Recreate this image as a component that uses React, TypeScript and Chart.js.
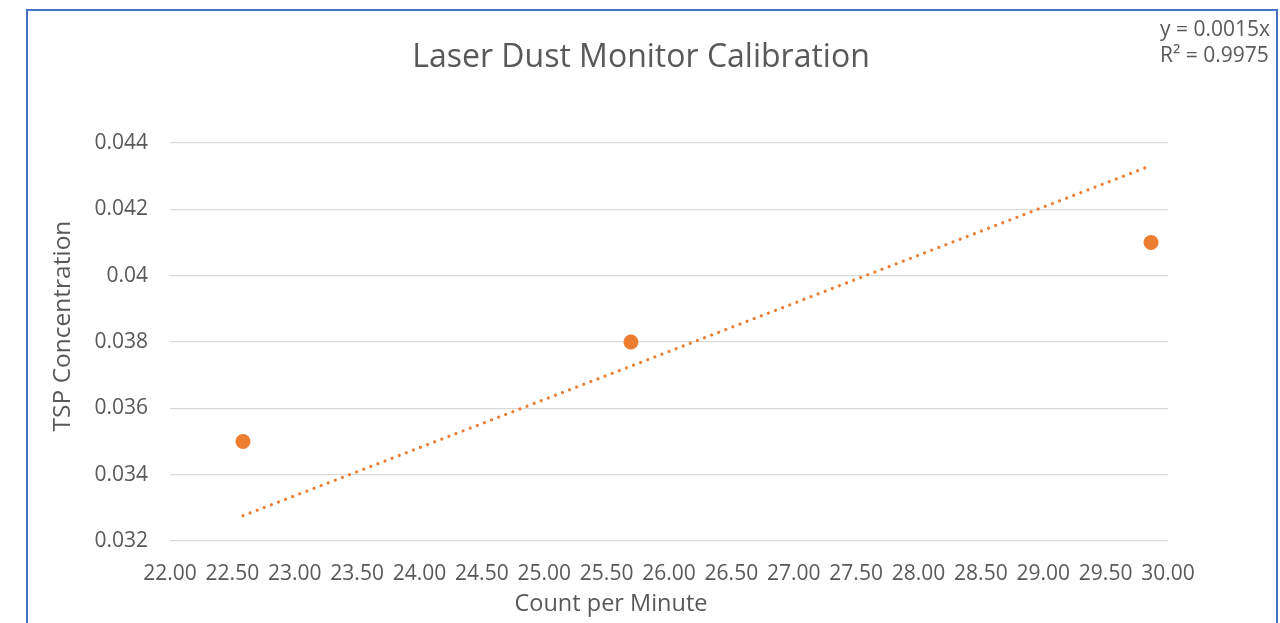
import React, { useEffect, useRef } from "react";
import { Chart, registerables } from "chart.js";

Chart.register(...registerables);

const chartTitle = "Laser Dust Monitor Calibration";
const xAxisTitle = "Count per Minute";
const yAxisTitle = "TSP Concentration";
const countPerMinute = [22.585, 25.695, 29.864];
const tspConcentration = [0.035, 0.038, 0.041];
const equationLabel = "y = 0.0015x";
const r2Label = "R² = 0.9975";
const xRange = [22, 30, 0.5];
const yRange = [0.032, 0.044, 0.002];

const FONT = "'Open Sans', sans-serif";
const TEXT = "#595959";
const ORANGE = "#ED7D31";

export default function App() {
  const ref = useRef<HTMLCanvasElement | null>(null);
  useEffect(() => {
    const canvas = ref.current;
    if (!canvas) return;
    // trendline through origin (least squares)
    let sxy = 0, sxx = 0;
    countPerMinute.forEach((x, i) => { sxy += x * tspConcentration[i]; sxx += x * x; });
    const slope = sxy / sxx;
    const xmin = Math.min(...countPerMinute);
    const xmax = Math.max(...countPerMinute);
    const trend = [{ x: xmin, y: slope * xmin }, { x: xmax, y: slope * xmax }];

    const textPlugin = {
      id: "texts",
      afterDraw(chart: any) {
        const ctx = chart.ctx;
        ctx.save();
        ctx.fillStyle = TEXT;
        ctx.textBaseline = "middle";
        ctx.textAlign = "center";
        ctx.font = `32px ${FONT}`;
        ctx.fillText(chartTitle, 641, 58);
        ctx.font = `23.5px ${FONT}`;
        ctx.fillText(xAxisTitle, 611, 604);
        ctx.save();
        ctx.translate(63, 326);
        ctx.rotate(-Math.PI / 2);
        ctx.font = `24.5px ${FONT}`;
        ctx.fillText(yAxisTitle, 0, 0);
        ctx.restore();
        ctx.textAlign = "left";
        ctx.font = `21px ${FONT}`;
        ctx.fillText(equationLabel, 1160, 30);
        ctx.fillText(r2Label, 1160, 56);
        ctx.restore();
      },
    };

    const chart = new Chart(canvas, {
      type: "scatter",
      data: {
        datasets: [
          {
            label: "data",
            data: countPerMinute.map((x, i) => ({ x, y: tspConcentration[i] })),
            backgroundColor: ORANGE,
            borderColor: ORANGE,
            pointRadius: 7.5,
            pointHoverRadius: 7.5,
            borderWidth: 0,
          },
          {
            label: "trend",
            type: "line",
            data: trend,
            borderColor: ORANGE,
            borderWidth: 3.2,
            borderCapStyle: "round",
            borderDash: [0.01, 7.6],
            pointRadius: 0,
            fill: false,
          } as any,
        ],
      },
      options: {
        animation: false,
        responsive: false,
        layout: { padding: { left: 0, right: 112, top: 143, bottom: 0 } },
        plugins: { legend: { display: false }, title: { display: false }, tooltip: { enabled: false } },
        scales: {
          x: {
            type: "linear",
            min: xRange[0],
            max: xRange[1],
            afterFit(s: any) { s.height = 623 - 143 - 398; },
            border: { display: false },
            grid: { display: false, drawTicks: false },
            ticks: {
              stepSize: xRange[2],
              color: TEXT,
              font: { family: FONT, size: 21 },
              padding: 20,
              maxRotation: 0,
              autoSkip: false,
              callback: (v: any) => Number(v).toFixed(2),
            },
          },
          y: {
            type: "linear",
            min: yRange[0],
            max: yRange[1],
            afterFit(s: any) { s.width = 170; },
            border: { display: false },
            grid: { color: "#d9d9d9", lineWidth: 1.3, drawTicks: false },
            ticks: {
              stepSize: yRange[2],
              color: TEXT,
              font: { family: FONT, size: 21 },
              padding: 22,
              callback: (v: any) => String(Number(Number(v).toFixed(3))),
            },
          },
        },
      },
      plugins: [textPlugin],
    });
    return () => chart.destroy();
  }, []);

  return (
    <div style={{ position: "fixed", left: 0, top: 0, width: 1280, height: 623, background: "#fff", overflow: "hidden" }}>
      <canvas ref={ref} width={1280} height={623} style={{ position: "absolute", left: 0, top: 0 }} />
      <div style={{ position: "absolute", left: 26, top: 9, width: 1252, height: 700, border: "2px solid #4472C4", boxSizing: "border-box", pointerEvents: "none" }} />
    </div>
  );
}
